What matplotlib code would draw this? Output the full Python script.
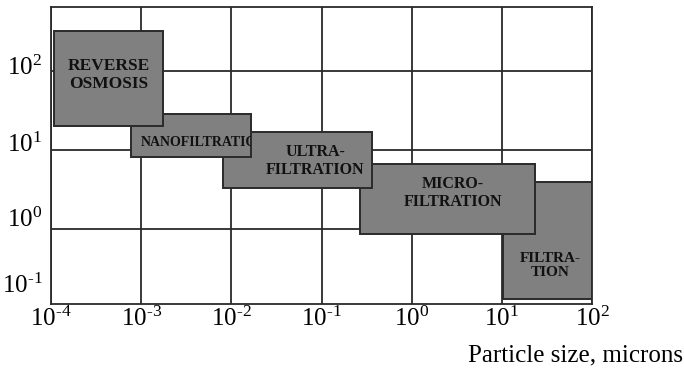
import matplotlib
matplotlib.use("Agg")
import matplotlib.pyplot as plt
from matplotlib.patches import Rectangle
import matplotlib.transforms as mtrans

plt.rcParams['font.family'] = ['Liberation Serif', 'DejaVu Serif']
plt.rcParams['mathtext.fontset'] = 'custom'
plt.rcParams['mathtext.rm'] = 'Liberation Serif'
plt.rcParams['mathtext.it'] = 'Liberation Serif:italic'
plt.rcParams['mathtext.bf'] = 'Liberation Serif:bold'

# separation processes: particle size range (microns) and vertical range
names = ["REVERSE\nOSMOSIS", "NANOFILTRATION", "ULTRA-\nFILTRATION",
         "MICRO-\nFILTRATION", "FILTRA-\nTION"]
x_lo = [1.08e-4, 7.7e-4, 8.0e-3, 0.267, 10.4]
x_hi = [1.75e-3, 0.0165, 0.36, 23.3, 99.0]
y_lo = [20.3, 8.2, 3.27, 0.865, 0.13]
y_hi = [321.0, 28.3, 17.1, 6.6, 3.9]

# label anchor inside each box
lab_x = [4.4e-4, 1.0e-3, 0.085, 2.87, 34.2]
lab_y = [89.0, 12.3, 7.26, 2.86, 0.34]
lab_ha = ['center', 'left', 'center', 'center', 'center']
lab_size = [12.5, 10, 11.5, 11.5, 11]

xticks = [1e-4, 1e-3, 1e-2, 1e-1, 1e0, 1e1, 1e2]
xtick_labels = [r'$10^{\text{-4}}$', r'$10^{\text{-3}}$', r'$10^{\text{-2}}$',
                r'$10^{\text{-1}}$', r'$10^{0}$', r'$10^{1}$', r'$10^{2}$']
ygrid = [1, 10, 100]
ytick_labels = [r'$10^{2}$', r'$10^{1}$', r'$10^{0}$', r'$10^{\text{-1}}$']
ytick_pos = [10**2.04, 10**1.06, 10**0.11, 10**-0.72]

line_col = '#2a2a2a'

fig = plt.figure(figsize=(6.84, 3.73), dpi=100)
ax = fig.add_axes([0.0746, 0.185, 0.791, 0.796])
ax.set_xscale('log')
ax.set_yscale('log')
ax.set_xlim(1e-4, 1e2)
ax.set_ylim(10**-0.95, 10**2.81)

ax.set_xticks(xticks)
ax.set_xticklabels(xtick_labels, fontsize=18)
ax.xaxis.set_minor_locator(matplotlib.ticker.NullLocator())
ax.set_yticks(ygrid)
ax.set_yticklabels([])
ax.yaxis.set_minor_locator(matplotlib.ticker.NullLocator())
ax.tick_params(length=0, pad=2)
ax.grid(True, color=line_col, linewidth=1.3)
ax.set_axisbelow(True)
for sp in ax.spines.values():
    sp.set_color(line_col)
    sp.set_linewidth(1.3)

trans = mtrans.blended_transform_factory(ax.transAxes, ax.transData)
for lbl, yp in zip(ytick_labels, ytick_pos):
    ax.text(-0.016, yp, lbl, transform=trans, ha='right', va='center',
            fontsize=18)

# draw from right to left so the left boxes sit on top
n = len(names)
for i in range(n):
    rect = Rectangle((x_lo[i], y_lo[i]), x_hi[i] - x_lo[i], y_hi[i] - y_lo[i],
                     facecolor='#808080', edgecolor=line_col, linewidth=1.4,
                     zorder=10 + (n - i) * 2)
    ax.add_patch(rect)
    t = ax.text(lab_x[i], lab_y[i], names[i], ha=lab_ha[i], va='center',
                multialignment='center', fontsize=lab_size[i],
                fontweight='bold', color='#111111', linespacing=1.1,
                zorder=11 + (n - i) * 2)
    # text is cut at the edge of its own box
    box = mtrans.Bbox.from_extents(x_lo[i], y_lo[i], x_hi[i], y_hi[i])
    t.set_clip_box(mtrans.TransformedBbox(box, ax.transData))
    t.set_clip_on(True)

fig.text(0.999, 0.046, 'Particle size, microns', ha='right', va='center',
         fontsize=18)

fig.savefig('out.png', dpi=100)
